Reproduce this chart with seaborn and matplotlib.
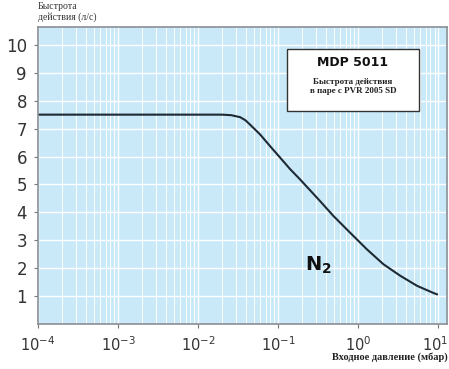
import numpy as np
import pandas as pd
import matplotlib
matplotlib.use("Agg")
import matplotlib.pyplot as plt
import matplotlib.transforms as mtransforms
from matplotlib.patches import Rectangle
import seaborn as sns

# Data (pressure in mbar, pumping speed in l/s)
pressure = [1e-4, 1e-3, 1e-2, 0.02, 0.026, 0.0335, 0.039, 0.0447, 0.0596, 0.0794,
            0.106, 0.141, 0.188, 0.335, 0.491, 0.794, 1.28, 2.07, 3.35, 5.42, 8.74, 9.72]
speed = [7.5, 7.5, 7.5, 7.5, 7.48, 7.41, 7.3, 7.14, 6.79, 6.37,
         5.96, 5.55, 5.18, 4.40, 3.87, 3.27, 2.68, 2.14, 1.73, 1.37, 1.11, 1.06]
xticks = [1e-4, 1e-3, 1e-2, 1e-1, 1e0, 1e1]
xtick_labels = [r"$10^{-4}$", r"$10^{-3}$", r"$10^{-2}$", r"$10^{-1}$", r"$10^{0}$", r"$10^{1}$"]
yticks = [1, 2, 3, 4, 5, 6, 7, 8, 9, 10]

df = pd.DataFrame({"pressure": pressure, "speed": speed})

sns.set_style("white")
plt.rcParams["font.family"] = ["DejaVu Sans"]

fig = plt.figure(figsize=(4.49, 3.69), dpi=100)
ax = fig.add_axes([38 / 449, (369 - 324) / 369, (447 - 38) / 449, (324 - 27) / 369])
ax.set_facecolor("#c9e9f9")

sns.lineplot(data=df, x="pressure", y="speed", ax=ax, color="#1e2a33", linewidth=1.5)

ax.set_xscale("log")
ax.set_xlim(1e-4, 10 ** 1.11)
ax.set_ylim(0, 10.64)
ax.set_xticks(xticks)
ax.set_xticklabels(xtick_labels, fontsize=10.5, color="#333333")
ax.set_yticks(yticks)
ax.set_yticklabels([str(v) for v in yticks], fontsize=12, color="#333333")
ax.xaxis.set_minor_locator(matplotlib.ticker.LogLocator(base=10, subs=np.arange(2, 10)))
ax.xaxis.set_minor_formatter(matplotlib.ticker.NullFormatter())
ax.grid(True, which="major", color="white", linewidth=1.0)
ax.grid(True, which="minor", axis="x", color="white", linewidth=0.7)
ax.tick_params(axis="both", which="major", length=3, color="#777777", direction="out",
               left=True, bottom=True, pad=5)
ax.tick_params(axis="x", which="minor", length=0)
for s in ax.spines.values():
    s.set_color("#8a8f94")
    s.set_linewidth(1.2)
ax.set_xlabel("")
ax.set_ylabel("")

# keep the last x tick label inside the figure
last = ax.get_xticklabels()[-1]
last.set_transform(last.get_transform() + mtransforms.ScaledTranslation(-3 / 100, 0, fig.dpi_scale_trans))

# Axis titles
fig.text(38 / 449, 1 - 2 / 369, "Быстрота\nдействия (л/с)", family="Liberation Serif",
         fontsize=7, va="top", ha="left", color="#333333", linespacing=1.2)
fig.text(448 / 449, 1 - 357 / 369, "Входное давление (мбар)", family="Liberation Serif",
         fontsize=7.5, fontweight="bold", va="center", ha="right", color="#222222")

# Legend box
box = Rectangle(((287 - 38) / 409, (324 - 111) / 297), (419 - 287) / 409, (111 - 49) / 297,
                transform=ax.transAxes, facecolor="white", edgecolor="#333333", linewidth=1.0, zorder=5)
ax.add_patch(box)
ax.text((353 - 38) / 409, (324 - 63) / 297, "MDP 5011", transform=ax.transAxes, ha="center",
        va="center", fontsize=9, fontweight="bold", color="#111111", zorder=6)
ax.text((353 - 38) / 409, (324 - 86.5) / 297, "Быстрота действия\nв паре с PVR 2005 SD",
        transform=ax.transAxes, ha="center", va="center", fontsize=6.5, fontweight="bold",
        family="Liberation Serif", color="#222222", zorder=6, linespacing=1.25)

# Gas label
ax.text((305 - 38) / 409, (324 - 265) / 297, r"$\mathbf{N_2}$", transform=ax.transAxes,
        ha="left", va="center", fontsize=14, color="#111111")

fig.savefig("out.png", dpi=100)
